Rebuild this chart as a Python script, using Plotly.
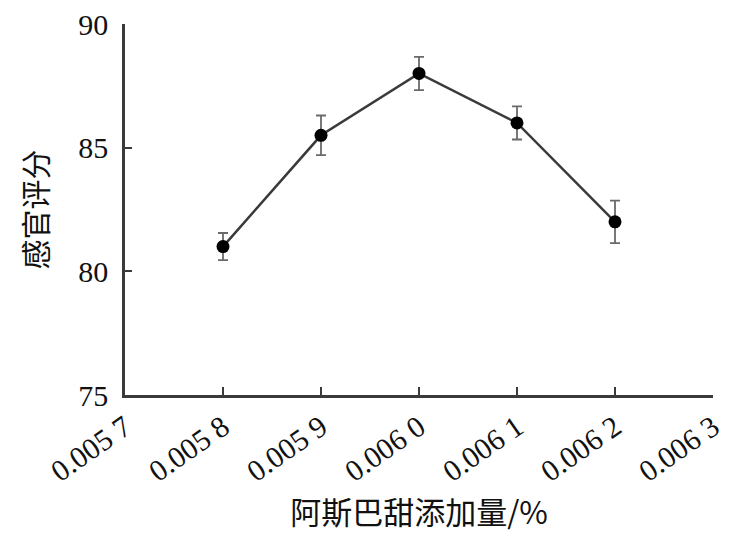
import plotly.graph_objects as go

x_vals = [0.0058, 0.0059, 0.0060, 0.0061, 0.0062]
scores = [81.0, 85.5, 88.0, 86.0, 82.0]
errors = [0.55, 0.8, 0.67, 0.67, 0.86]

x_tickvals = [0.0057, 0.0058, 0.0059, 0.0060, 0.0061, 0.0062, 0.0063]
x_ticktext = ["0.005 7", "0.005 8", "0.005 9", "0.006 0", "0.006 1", "0.006 2", "0.006 3"]
y_tickvals = [75, 80, 85, 90]

x_title = "阿斯巴甜添加量/%"
y_title = "感官评分"

serif = "Liberation Serif"
cjk = "Noto Sans CJK SC"

fig = go.Figure()
fig.add_trace(go.Scatter(
    x=x_vals, y=scores,
    mode="lines+markers",
    line=dict(color="#3a3a3a", width=2.5),
    marker=dict(color="black", size=13),
    error_y=dict(type="data", array=errors, visible=True,
                 color="#6a6a6a", thickness=1.8, width=5),
    showlegend=False,
))

fig.add_annotation(
    text=y_title, textangle=-90, showarrow=False,
    xref="paper", yref="paper", x=0, y=0.5,
    xanchor="center", yanchor="middle", xshift=-92,
    font=dict(family=cjk, size=30, color="#111"),
)

fig.update_layout(
    width=753, height=538,
    margin=dict(l=117, r=48, t=16, b=151, autoexpand=False),
    paper_bgcolor="white", plot_bgcolor="white",
    xaxis=dict(
        range=[0.0057, 0.0063],
        tickvals=x_tickvals, ticktext=x_ticktext,
        tickangle=-35,
        ticks="inside", ticklen=8, tickwidth=2, tickcolor="#3a3a3a",
        showline=True, linecolor="#3a3a3a", linewidth=2.5,
        showgrid=False, zeroline=False, automargin=False,
        ticklabeloverflow="allow",
        tickfont=dict(family=serif, size=30, color="#111"),
        title=dict(text=x_title, font=dict(family=cjk, size=31, color="#111"), standoff=16),
    ),
    yaxis=dict(
        range=[75, 90],
        tickvals=y_tickvals,
        ticks="inside", ticklen=7, tickwidth=2, tickcolor="#3a3a3a",
        showline=True, linecolor="#3a3a3a", linewidth=2.5,
        showgrid=False, zeroline=False, automargin=False,
        ticklabelstandoff=8, ticklabeloverflow="allow",
        tickfont=dict(family=serif, size=30, color="#111"),
    ),
)

fig.write_html("out.html")
